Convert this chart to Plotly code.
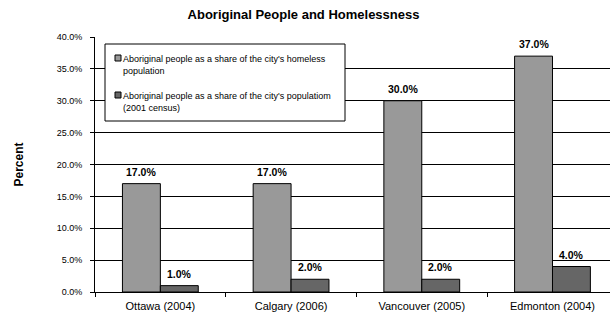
import plotly.graph_objects as go

# Data: share of Aboriginal people (fractions) per city
cities = ["Ottawa (2004)", "Calgary (2006)", "Vancouver (2005)", "Edmonton (2004)"]
homeless_share = [0.17, 0.17, 0.30, 0.37]
population_share = [0.01, 0.02, 0.02, 0.04]
series_names = [
    "Aboriginal people as a share of the city's homeless<br>population",
    "Aboriginal people as a share of the city's populatiom<br>(2001 census)",
]
y_ticks = [0.0, 0.05, 0.10, 0.15, 0.20, 0.25, 0.30, 0.35, 0.40]

FONT = "Liberation Sans, Arial, sans-serif"
colors = ["#999999", "#666666"]

# Plot-area geometry in pixels (used to place the boxed legend)
L, R, T, B = 95, 610, 37, 292
W, H = R - L, B - T


def px(x):
    return (x - L) / W


def py(y):
    return (B - y) / H


fig = go.Figure()
for i, (name, vals) in enumerate(zip(series_names, [homeless_share, population_share])):
    fig.add_trace(go.Bar(
        x=cities, y=vals, name=name, showlegend=False,
        marker=dict(color=colors[i], line=dict(color="#000000", width=1)),
        hoverinfo="skip",
    ))

# Value labels above each bar, positioned from the same values
annotations = []
for i, vals in enumerate([homeless_share, population_share]):
    offset = -0.145 if i == 0 else 0.145
    for j, v in enumerate(vals):
        annotations.append(dict(
            x=j + offset, y=v, xref="x", yref="y",
            text=f"<b>{v * 100:.1f}%</b>", showarrow=False,
            yanchor="middle", yshift=12,
            font=dict(family=FONT, size=10.5, color="#000000"),
        ))

# Boxed legend: frame, small swatches and two-line entries
shapes = [dict(
    type="rect", xref="paper", yref="paper",
    x0=px(105), x1=px(345), y0=py(121), y1=py(44),
    fillcolor="white", line=dict(color="#000000", width=1), layer="above",
)]
entry_tops = [52, 89]
for i, name in enumerate(series_names):
    top = entry_tops[i]
    shapes.append(dict(
        type="rect", xref="paper", yref="paper",
        x0=px(115), x1=px(121), y0=py(top + 9), y1=py(top + 3),
        fillcolor=colors[i], line=dict(color="#000000", width=1), layer="above",
    ))
    annotations.append(dict(
        x=px(121), y=py(top), xref="paper", yref="paper",
        text=name, showarrow=False, xanchor="left", yanchor="top", align="left",
        font=dict(family=FONT, size=9, color="#000000"),
    ))

fig.update_layout(
    width=610, height=320,
    margin=dict(l=L, r=0, t=T, b=320 - B),
    paper_bgcolor="white", plot_bgcolor="white",
    barmode="group", bargap=0.42, bargroupgap=0,
    showlegend=False,
    title=dict(
        text="<b>Aboriginal People and Homelessness</b>",
        x=303.5 / 610, xanchor="center", y=1 - 14 / 320, yanchor="middle",
        font=dict(family=FONT, size=13, color="#000000"),
    ),
    font=dict(family=FONT, color="#000000"),
    annotations=annotations,
    shapes=shapes,
    xaxis=dict(
        type="category", range=[-0.5, 3.44],
        showline=True, linecolor="#000000", linewidth=1,
        ticks="outside", tickson="boundaries", ticklen=4, tickcolor="#000000",
        ticklabelstandoff=4,
        tickfont=dict(family=FONT, size=11, color="#000000"),
        showgrid=False,
    ),
    yaxis=dict(
        range=[0, 0.4], tickvals=y_ticks, tickformat=".1%",
        showline=True, linecolor="#000000", linewidth=1,
        ticks="outside", ticklen=4, tickcolor="#000000",
        ticklabelstandoff=6,
        showgrid=True, gridcolor="#000000", gridwidth=1,
        tickfont=dict(family=FONT, size=9, color="#000000"),
        title=dict(text="<b>Percent</b>", standoff=30,
                   font=dict(family=FONT, size=12, color="#000000")),
        zeroline=False,
    ),
)

fig.write_html("out.html")
